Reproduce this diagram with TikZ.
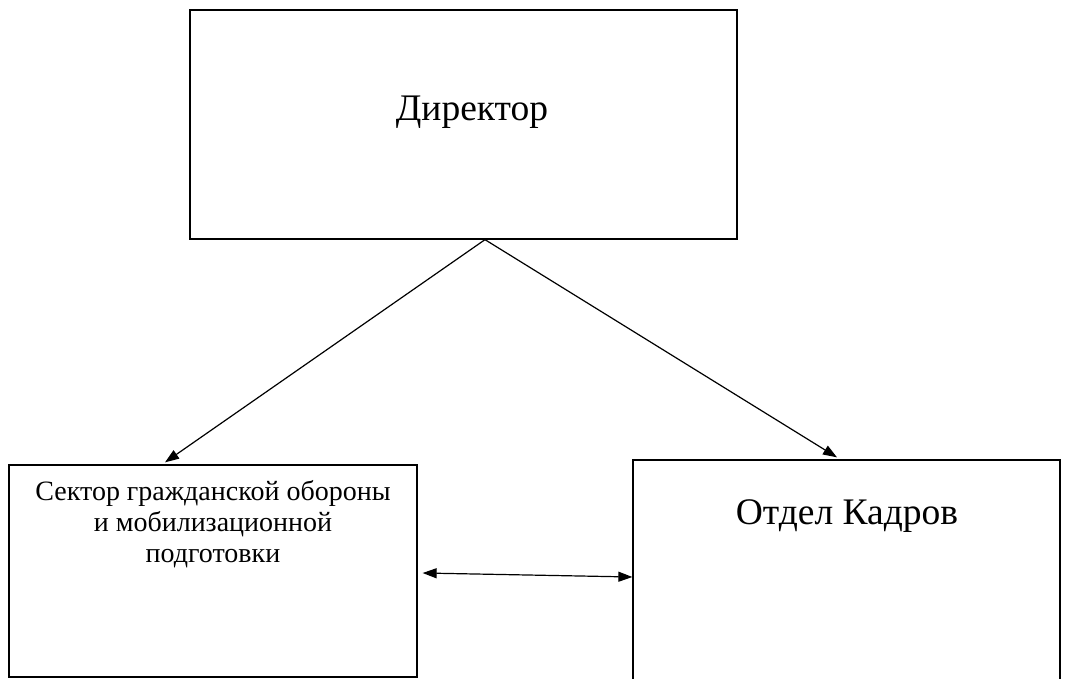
\documentclass[tikz,border=0pt]{standalone}
\usepackage{fontspec}
\setmainfont{Liberation Serif}
\usetikzlibrary{arrows.meta,calc}
\tikzset{
  box/.style={draw=black, line width=1.3pt, rectangle, inner sep=0pt},
  lbl/.style={inner sep=0pt, text=black},
  tip/.tip={Triangle[length=14pt,width=10pt]},
  arr/.style={line width=1.2pt, -tip},
  darr/.style={line width=1.2pt, tip-tip}
}
\begin{document}
\begin{tikzpicture}[x=1pt,y=-1pt]
\useasboundingbox (0,0) rectangle (1066,679);
\fill[white] (0,0) rectangle (1066,679);
\clip (0,0) rectangle (1066,679);
% boxes
\node[box, minimum width=547pt, minimum height=229pt] (dir) at (463.5,124.5) {};
\node[box, minimum width=408pt, minimum height=212pt] (sec) at (213,571) {};
\node[box, minimum width=427pt, minimum height=260pt] (kad) at (846.5,590) {};
% texts
\node[lbl, anchor=base, font=\fontsize{37.5}{42}\selectfont] (dirt) at (472,121) {Директор};
\node[lbl, anchor=base, font=\fontsize{37.5}{42}\selectfont] (kadt) at (847,524) {Отдел Кадров};
\node[lbl, anchor=base, font=\fontsize{28}{32}\selectfont] (sect1) at (213,500) {Сектор гражданской обороны};
\node[lbl, anchor=base, font=\fontsize{28}{32}\selectfont] (sect2) at (213,531) {и мобилизационной};
\node[lbl, anchor=base, font=\fontsize{28}{32}\selectfont] (sect3) at (213,562) {подготовки};
% connectors
\coordinate (apex) at ($(dir.south)+(21.5,0)$);
\coordinate (secin) at ($(sec.north)+(-48,-2)$);
\coordinate (kadin) at ($(kad.north)+(-9.5,-2)$);
\coordinate (secr) at ($(sec.east)+(5,2)$);
\coordinate (kadl) at (kad.west |- 0,577);
\draw[arr] (apex) -- (secin);
\draw[arr] (apex) -- (kadin);
\draw[darr] (secr) -- (kadl);
\end{tikzpicture}
\end{document}
